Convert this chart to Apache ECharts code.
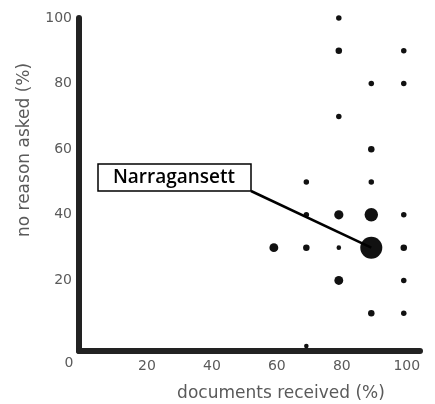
<!DOCTYPE html>
<html>
<head>
<meta charset="utf-8">
<script src="https://cdn.jsdelivr.net/npm/echarts@6/dist/echarts.min.js"></script>
<style>
html,body{margin:0;padding:0;background:#fff}
#chart{width:435px;height:404px}
</style>
</head>
<body>
<div id="chart"></div>
<script>
// documents received (%) vs no reason asked (%), one dot per town group
var docsReceived  = [80, 80, 100, 90, 100, 80, 90, 70, 90, 70, 80, 90, 100, 60, 70, 80, 90, 100, 80, 100, 90, 100, 70];
var noReasonAsked = [100, 90, 90, 80, 80, 70, 60, 50, 50, 40, 40, 40, 40, 30, 30, 30, 30, 30, 20, 20, 10, 10, 0];
var townCount     = [1, 1.4, 1, 1, 1, 1, 1.4, 1, 1, 1, 2.8, 6, 1, 2.6, 1.4, 0.7, 16, 1.4, 2.6, 1, 1.4, 1, 0.7];

var tickLabels = ['0', '20', '40', '60', '80', '100'];
var xTitle = 'documents received (%)';
var yTitle = 'no reason asked (%)';
var calloutName = 'Narragansett';
var calloutPoint = [90, 30];

var points = [];
for (var i = 0; i < docsReceived.length; i++) {
    points.push([docsReceived[i], noReasonAsked[i], townCount[i]]);
}

// only the round tick values get a label, "0" is drawn once at the corner
function tickFormatter(v) {
    var s = String(v);
    if (s === '0') return '';
    return tickLabels.indexOf(s) >= 0 ? s : '';
}

var axisFont = {color: '#5a5a5a', fontFamily: 'DejaVu Sans', fontSize: 14};

var myChart = echarts.init(document.getElementById('chart'));
var option = {
    animation: false,
    grid: {left: 79, right: 15, top: 18, bottom: 53},
    xAxis: {
        type: 'value',
        min: 0,
        max: 105,
        splitNumber: 5,
        axisLine: {show: true, onZero: false, lineStyle: {color: '#222', width: 6}},
        axisTick: {show: false},
        splitLine: {show: false},
        axisLabel: Object.assign({margin: 8, padding: [0, 0, 0, 6], formatter: tickFormatter, showMinLabel: true, showMaxLabel: true}, axisFont)
    },
    yAxis: {
        type: 'value',
        min: -1.5,
        max: 100,
        splitNumber: 5,
        axisLine: {show: true, onZero: false, lineStyle: {color: '#222', width: 6}},
        axisTick: {show: false},
        splitLine: {show: false},
        axisLabel: Object.assign({margin: 7, padding: [6, 0, 0, 0], formatter: tickFormatter, showMinLabel: true, showMaxLabel: true}, axisFont)
    },
    series: [{
        type: 'scatter',
        data: points,
        symbol: 'circle',
        symbolSize: function (d) { return 5.5 * Math.sqrt(d[2]); },
        itemStyle: {color: '#111', opacity: 1},
        z: 3,
        markLine: {
            silent: true,
            symbol: ['none', 'none'],
            label: {show: false},
            lineStyle: {color: '#000', width: 2.5, type: 'solid'},
            data: [[{coord: calloutPoint}, {x: 251, y: 191}]]
        }
    }],
    graphic: [
        {type: 'text', x: 69, y: 363, style: {text: '0', fill: '#5a5a5a', fontFamily: 'DejaVu Sans', fontSize: 14, align: 'center', verticalAlign: 'middle'}},
        {type: 'text', x: 281, y: 394, style: {text: xTitle, fill: '#5a5a5a', fontFamily: 'DejaVu Sans', fontSize: 17, align: 'center', verticalAlign: 'middle'}},
        {type: 'text', x: 25, y: 150, rotation: Math.PI / 2, style: {text: yTitle, fill: '#5a5a5a', fontFamily: 'DejaVu Sans', fontSize: 17, align: 'center', verticalAlign: 'middle'}},
        {type: 'rect', shape: {x: 98, y: 164, width: 153, height: 27}, style: {fill: '#fff', stroke: '#000', lineWidth: 1.5}, z: 10},
        {type: 'text', x: 174, y: 178, style: {text: calloutName, fill: '#000', fontFamily: 'Open Sans', fontWeight: 600, fontSize: 19, align: 'center', verticalAlign: 'middle'}, z: 11}
    ]
};
myChart.setOption(option);
</script>
</body>
</html>
